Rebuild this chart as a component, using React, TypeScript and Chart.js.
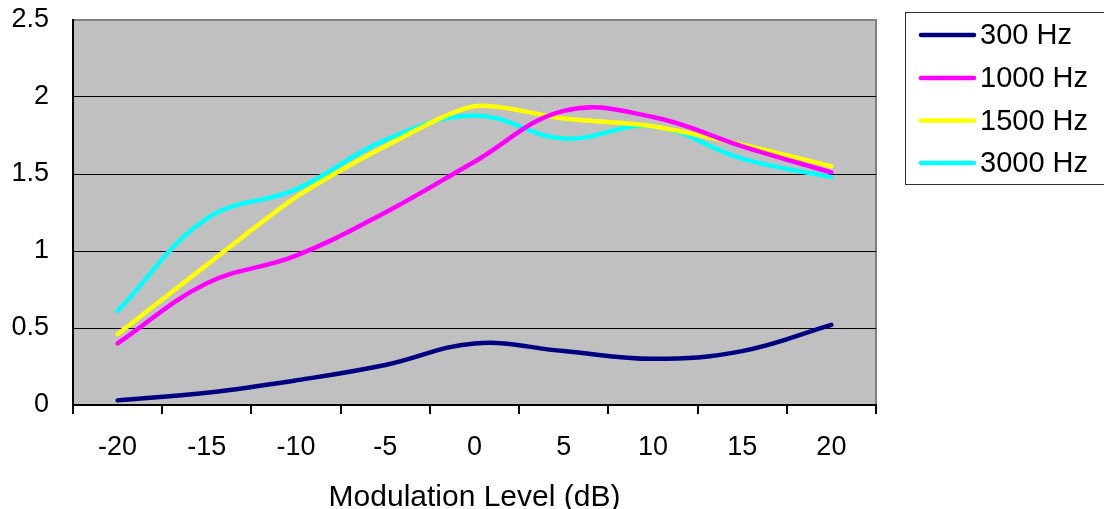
import React, { useEffect, useRef } from "react";
import { Chart, registerables } from "chart.js";

Chart.register(...registerables);

const categories = ["-20", "-15", "-10", "-5", "0", "5", "10", "15", "20"];
const seriesLabels = ["300 Hz", "1000 Hz", "1500 Hz", "3000 Hz"];
const seriesColors = ["#000080", "#FF00FF", "#FFFF00", "#00FFFF"];
const hz300 = [0.03, 0.08, 0.16, 0.26, 0.4, 0.35, 0.3, 0.35, 0.52];
const hz1000 = [0.4, 0.79, 0.97, 1.25, 1.58, 1.91, 1.87, 1.68, 1.51];
const hz1500 = [0.46, 0.91, 1.35, 1.68, 1.94, 1.86, 1.81, 1.69, 1.55];
const hz3000 = [0.61, 1.21, 1.4, 1.72, 1.88, 1.73, 1.81, 1.6, 1.48];
const yTicks = [0, 0.5, 1, 1.5, 2, 2.5];
const xTitle = "Modulation Level (dB)";

const FONT = "'Liberation Sans', Arial, sans-serif";
const tensions = [0.4, 0.4, 0.25, 0.4];

const plotBgPlugin = {
  id: "plotBg",
  beforeDraw(chart: any) {
    const { ctx, chartArea } = chart;
    if (!chartArea) return;
    ctx.save();
    ctx.fillStyle = "#C0C0C0";
    ctx.fillRect(chartArea.left, chartArea.top, chartArea.right - chartArea.left, chartArea.bottom - chartArea.top);
    ctx.strokeStyle = "#808080";
    ctx.lineWidth = 2;
    ctx.beginPath();
    ctx.moveTo(chartArea.left, chartArea.top);
    ctx.lineTo(chartArea.right, chartArea.top);
    ctx.lineTo(chartArea.right, chartArea.bottom);
    ctx.stroke();
    ctx.restore();
  },
};

const legendBoxPlugin = {
  id: "legendBox",
  afterDraw(chart: any) {
    const { ctx } = chart;
    ctx.save();
    ctx.strokeStyle = "#303030";
    ctx.lineWidth = 1;
    ctx.strokeRect(905.5, 12.5, 220, 172);
    const rowY = [35, 78, 120.5, 163];
    chart.data.datasets.forEach((ds: any, i: number) => {
      const y = rowY[i];
      ctx.strokeStyle = ds.borderColor;
      ctx.lineWidth = 4.5;
      ctx.lineCap = "round";
      ctx.beginPath();
      ctx.moveTo(921, y);
      ctx.lineTo(974, y);
      ctx.stroke();
      ctx.fillStyle = "#000000";
      ctx.font = `29px ${FONT}`;
      ctx.textBaseline = "middle";
      ctx.textAlign = "left";
      ctx.fillText(ds.label, 980, y + 1);
    });
    ctx.restore();
  },
};

export default function App() {
  const canvasRef = useRef<HTMLCanvasElement | null>(null);

  useEffect(() => {
    const canvas = canvasRef.current;
    if (!canvas) return;
    const values = [hz300, hz1000, hz1500, hz3000];
    const chart = new Chart(canvas, {
      type: "line",
      data: {
        labels: categories,
        datasets: values.map((v, i) => ({
          label: seriesLabels[i],
          data: v,
          borderColor: seriesColors[i],
          backgroundColor: seriesColors[i],
          borderWidth: 4.5,
          pointRadius: 0,
          tension: tensions[i],
          fill: false,
          borderCapStyle: "round" as const,
        })),
      },
      plugins: [plotBgPlugin, legendBoxPlugin],
      options: {
        animation: false,
        responsive: false,
        maintainAspectRatio: false,
        layout: { padding: { left: 0, top: 20, right: 228, bottom: 0 } },
        plugins: {
          legend: { display: false },
          tooltip: { enabled: false },
        },
        scales: {
          x: {
            type: "category",
            offset: true,
            grid: {
              offset: true,
              drawOnChartArea: false,
              drawTicks: true,
              tickLength: 9,
              color: "#000000",
              lineWidth: 2,
            },
            border: { display: true, color: "#000000", width: 2 },
            ticks: {
              color: "#000000",
              font: { family: FONT, size: 27 },
              padding: 17,
              maxRotation: 0,
              autoSkip: false,
            },
            title: {
              display: true,
              text: xTitle,
              color: "#000000",
              font: { family: FONT, size: 30 },
              padding: { top: 0, bottom: -7 },
            },
            afterFit(scale: any) {
              scale.height = 104;
              scale.paddingLeft = 0;
              scale.paddingRight = 0;
            },
          },
          y: {
            min: 0,
            max: 2.5,
            afterBuildTicks(scale: any) {
              scale.ticks = yTicks.map((v) => ({ value: v }));
            },
            grid: {
              drawTicks: false,
              color: (c: any) => (c.tick && c.tick.value === 2.5 ? "rgba(0,0,0,0)" : "#000000"),
              lineWidth: 1,
            },
            border: { display: true, color: "#000000", width: 2 },
            ticks: {
              color: "#000000",
              font: { family: FONT, size: 27 },
              padding: 24,
              callback: (v: any) => String(v),
            },
            afterFit(scale: any) {
              scale.width = 73;
              scale.paddingTop = 0;
              scale.paddingBottom = 0;
            },
          },
        },
      },
    });
    return () => chart.destroy();
  }, []);

  return (
    <div style={{ position: "fixed", left: 0, top: 0, width: 1104, height: 509, background: "#ffffff" }}>
      <canvas ref={canvasRef} width={1104} height={509} style={{ width: 1104, height: 509, display: "block" }} />
    </div>
  );
}
